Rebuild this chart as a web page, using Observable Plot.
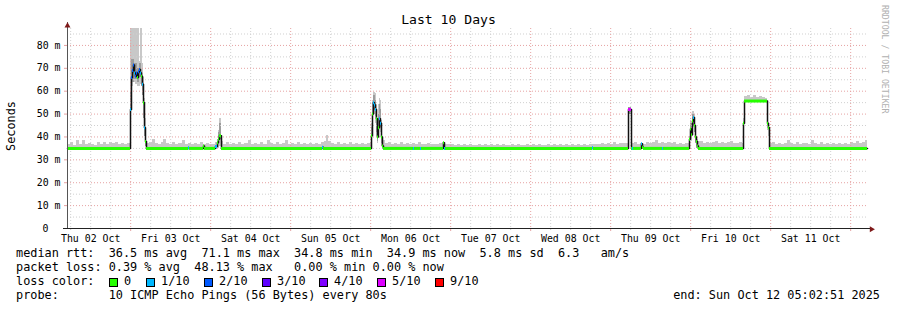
<!DOCTYPE html>
<html><head><meta charset="utf-8">
<script src="https://cdn.jsdelivr.net/npm/d3@7"></script>
<script src="https://cdn.jsdelivr.net/npm/@observablehq/plot@0.6"></script>
<style>
html,body{margin:0;padding:0;background:#fff;}
#wrap{position:relative;width:897px;height:310px;overflow:hidden;font-family:"DejaVu Sans Mono",monospace;color:#000;background:#fff;}
#wrap svg{position:absolute;left:0;top:0;}
.t{position:absolute;white-space:pre;line-height:1;}
.leg{font-size:11.85px;}
.box{position:absolute;width:7px;height:7px;border:1px solid #000;}
</style></head><body><div id="wrap"></div>
<script>
// ---- data (RRD step = 1080 s, step 0 = Thu 02 Oct 2025 05:02:51 UTC) ----
const startUTC = Date.UTC(2025, 9, 2, 5, 2, 51);
const stepSeconds = 1080;

const smokeStep = [
 0,3,6,9,12,15,18,21,24,27,30,33,36,39,42,45,48,51,54,57,60,
 62,63,64,66,68,70,72,73,75,76,77,78,79,
 82,85,88,91,94,96,99,102,105,108,111,115,118,121,124,127,130,133,136,139,142,145,148,
 150,151,152,154,
 156,159,162,165,168,171,174,177,181,184,187,190,193,196,200,203,206,209,212,215,218,221,
 224,227,230,233,236,239,242,245,248,251,254,257,259,261,264,267,270,273,276,279,282,285,288,291,294,297,300,
 303,304,305,306,308,309,310,311,312,313,314,315,316,
 318,321,324,327,330,333,336,339,342,345,348,351,354,357,360,363,366,369,372,375,378,381,384,
 387,390,393,396,399,402,405,408,411,414,417,420,423,426,429,432,435,438,441,444,447,450,453,456,459,462,
 465,468,471,474,477,480,483,486,489,492,495,498,501,504,507,510,513,516,519,522,525,528,531,534,537,540,
 543,546,549,552,555,558,
 561,562,564,
 567,570,573,576,579,582,585,588,591,594,597,600,603,606,609,612,615,618,621,
 622,623,624,625,626,627,628,629,630,631,
 633,636,639,642,645,648,651,654,657,660,663,666,669,672,
 675,676,677,680,683,686,689,692,695,698,700,701,702,
 705,708,711,714,717,720,723,726,729,732,735,738,741,744,747,750,753,756,759,762,765,768,771,774,777,780,783,786,789,792,795,798,
 800];

const smokeHi = [
 36.8,37.5,36.4,38.5,36.6,38.3,36.5,37.2,36.9,36.4,37.4,36.8,37.6,36.6,37.8,37.0,37.4,36.9,37.3,36.7,37.0,
 37,87.5,87.5,87.5,87.5,87.5,73,87.5,72,66,57,48,37,
 37.5,39.0,37.2,36.8,37.6,39.0,37.0,36.6,37.4,36.9,37.2,38.5,36.8,37.3,36.6,37.2,36.8,37.5,36.7,37.0,36.6,36.9,37.8,
 39,43,48,38,
 36.8,37.4,36.9,37.2,36.6,37.5,36.9,37.3,38.5,36.8,37.0,36.7,37.4,36.6,38.3,37.0,36.8,37.6,36.9,37.2,38.4,36.8,
 37.2,36.7,37.5,36.9,37.0,36.6,37.3,36.8,37.1,36.7,37.4,38.2,40.5,38.0,37.2,36.9,37.6,36.8,37.2,36.9,37.6,36.8,37.3,36.7,37.0,36.8,37.2,
 37,46,56,59.5,59,54,48,54,57,56,47,40,38.5,
 37.0,37.8,36.8,37.2,36.9,37.5,36.7,37.2,36.8,37.0,36.7,37.4,36.6,36.9,37.2,36.6,36.9,36.5,37.0,37.4,36.7,36.5,36.8,
 36.3,36.6,36.2,36.5,36.3,36.7,36.2,36.4,36.6,36.2,36.5,36.3,36.6,36.2,36.5,36.3,36.6,36.2,36.4,36.6,36.3,36.5,36.2,36.4,36.6,36.3,
 36.5,36.2,36.6,36.4,36.2,36.5,36.3,36.6,36.2,36.5,36.3,36.6,36.2,36.7,36.3,36.5,36.2,36.6,36.4,36.8,36.5,36.9,36.6,37.0,36.7,37.2,
 36.8,37.5,36.9,37.3,37.0,37.3,
 52.5,53,37,
 37.5,36.8,37.2,36.8,37.6,37.0,37.4,38.5,37.0,37.6,37.2,37.8,37.0,37.6,36.9,37.3,36.8,37.1,37.0,
 40,47,45,51,51,50,44,40,39,38,
 38.2,37.2,37.6,37.0,37.4,38.0,37.2,37.5,37.0,37.6,38.0,37.2,37.0,37.5,
 37,48,57.5,58,57.4,58.2,57.2,57.8,57.3,57.0,48,46,37,
 37.5,36.8,37.3,36.9,37.2,38.3,37.0,36.8,37.4,36.7,37.0,37.2,36.8,38.5,37.0,36.9,37.5,36.8,37.3,36.8,37.1,36.7,37.0,36.8,37.2,36.7,37.8,37.2,38.0,37.0,37.6,38.3,
 38.3];

const smokeLo = [
 34.6,34.6,34.6,34.6,34.6,34.6,34.6,34.6,34.6,34.6,34.6,34.6,34.6,34.6,34.6,34.6,34.6,34.6,34.6,34.6,34.6,
 34.6,48,62,64,63,62,62,63,58,50,40,36,34.6,
 34.6,34.6,34.6,34.6,34.6,34.6,34.6,34.6,34.6,34.6,34.6,34.6,34.6,34.6,34.6,34.6,34.6,34.6,34.6,34.6,34.6,34.6,34.6,
 34.6,35,36,34.6,
 34.6,34.6,34.6,34.6,34.6,34.6,34.6,34.6,34.6,34.6,34.6,34.6,34.6,34.6,34.6,34.6,34.6,34.6,34.6,34.6,34.6,34.6,
 34.6,34.6,34.6,34.6,34.6,34.6,34.6,34.6,34.6,34.6,34.6,34.6,34.6,34.6,34.6,34.6,34.6,34.6,34.6,34.6,34.6,34.6,34.6,34.6,34.6,34.6,34.6,
 34.6,36,44,50,46,40,37,42,44,42,36,34.6,34.6,
 34.6,34.6,34.6,34.6,34.6,34.6,34.6,34.6,34.6,34.6,34.6,34.6,34.6,34.6,34.6,34.6,34.6,34.6,34.6,34.6,34.6,34.6,34.6,
 34.6,34.6,34.6,34.6,34.6,34.6,34.6,34.6,34.6,34.6,34.6,34.6,34.6,34.6,34.6,34.6,34.6,34.6,34.6,34.6,34.6,34.6,34.6,34.6,34.6,34.6,
 34.6,34.6,34.6,34.6,34.6,34.6,34.6,34.6,34.6,34.6,34.6,34.6,34.6,34.6,34.6,34.6,34.6,34.6,34.6,34.6,34.6,34.6,34.6,34.6,34.6,34.6,
 34.6,34.6,34.6,34.6,34.6,34.6,
 35,50,34.6,
 34.6,34.6,34.6,34.6,34.6,34.6,34.6,34.6,34.6,34.6,34.6,34.6,34.6,34.6,34.6,34.6,34.6,34.6,34.6,
 34.6,40,38,40,44,42,37,35,34.6,34.6,
 34.6,34.6,34.6,34.6,34.6,34.6,34.6,34.6,34.6,34.6,34.6,34.6,34.6,34.6,
 34.6,44,55,55,55,55,55,55,55,55,43,40,34.6,
 34.6,34.6,34.6,34.6,34.6,34.6,34.6,34.6,34.6,34.6,34.6,34.6,34.6,34.6,34.6,34.6,34.6,34.6,34.6,34.6,34.6,34.6,34.6,34.6,34.6,34.6,34.6,34.6,34.6,34.6,34.6,34.6,
 34.6];

const coreStep = [63,64,67,70,72,74,75,76,77,78,79, 151,152,154, 304,305,306,308,309,310,311,312,313,314,315, 561,562,564, 623,625,626,627,628,629,630];
const coreLo = [50,64,65,64,66,62,58,48,40,36,NaN, 37,39,NaN, 38,46,52,49,42,38,42,46,44,37,NaN, 40,50,NaN, 41,44,45,42,37,35,NaN];
const coreHi = [60,74,72,70,72,68,66,60,52,42,NaN, 42,46,NaN, 44,55,58,56,52,44,50,54,52,44,NaN, 53,53,NaN, 46,50,50,48,42,39,NaN];

const medStep = [0,63,64,65,66,67,68,69,70,71,72,73,74,75,76,77,78,79,121,122,136,137,148,150,151,152,154,255,256,304,305,306,307,308,309,310,311,312,313,314,315,316,346,347,353,354,376,377,378,525,526,561,564,565,566,574,575,576,595,596,622,623,624,625,626,627,628,629,630,631,676,677,700,701,702,800];
const medValue = [35, 52,66,69,71.5,68,66.5,68,66,68.5,69.5,68,66.5,63,55,44,38,35, 35.3,35, 36,35, 35.8,37.5,39,40.5,35, 35.5,35, 40.5,50,55,54,52,48,40,44,48,46,40,36,35, 35,35,35,35, 37.5,35,35, 35.3,35, 52,35,35,35, 37,35.5,35, 35,35, 39,43.5,41,47,48.5,45,40,38,36,35, 46,55.7,46,44,35, 35];
const medLoss = [0, 1,2,2,2,1,2,2,0,2,2,1,0,1,0,1,0,0, 1,0, 0,0, 1,0,0,0,0, 1,0, 0,0,1,1,1,0,0,0,1,1,0,0,0, 1,0,1,0, 0,1,0, 1,0, 5,0,1,0, 1,0,0, 1,0, 0,0,0,0,1,0,0,0,0,0, 0,0,0,0,0, 0];

const lossLevels = [0, 1, 2, 3, 4, 5, 9];
const lossLabels = ["0", "1/10", "2/10", "3/10", "4/10", "5/10", "9/10"];
const lossColors = ["#26ff00", "#00b8ff", "#0059ff", "#5e00ff", "#7e00ff", "#dd00ff", "#ff0000"];

const dayLabels = ["Thu 02 Oct","Fri 03 Oct","Sat 04 Oct","Sun 05 Oct","Mon 06 Oct","Tue 07 Oct","Wed 08 Oct","Thu 09 Oct","Fri 10 Oct","Sat 11 Oct"];
const labelDays = ["2025-10-02","2025-10-03","2025-10-04","2025-10-05","2025-10-06","2025-10-07","2025-10-08","2025-10-09","2025-10-10","2025-10-11"];
const majorY = [10,20,30,40,50,60,70,80];
const minorY = [5,15,25,35,45,55,65,75,85];

const titleText = "Last 10 Days";
const statsLines = [
 "median rtt:  36.5 ms avg  71.1 ms max  34.8 ms min  34.9 ms now  5.8 ms sd  6.3   am/s",
 "packet loss: 0.39 % avg  48.13 % max   0.00 % min 0.00 % now",
 "loss color:",
 "probe:       10 ICMP Echo Pings (56 Bytes) every 80s"
];
const endText = "end: Sun Oct 12 05:02:51 2025";
const watermark = "RRDTOOL / TOBI OETIKER";

// ---- checks ----
if (smokeStep.length !== smokeHi.length || smokeStep.length !== smokeLo.length)
  throw new Error("smoke lengths " + smokeStep.length + " " + smokeHi.length + " " + smokeLo.length);
if (coreStep.length !== coreLo.length || coreStep.length !== coreHi.length) throw new Error("core lengths");
if (medStep.length !== medValue.length || medStep.length !== medLoss.length)
  throw new Error("median lengths " + medStep.length + " " + medValue.length + " " + medLoss.length);

// ---- build ----
const T = s => new Date(startUTC + s * stepSeconds * 1000);
const tEnd = T(800);
const smoke = smokeStep.slice(0, -1).map((s, i) => ({x1: T(s), x2: T(smokeStep[i + 1]), lo: smokeLo[i], hi: smokeHi[i]}));
const core = coreStep.slice(0, -1).map((s, i) => ({x1: T(s), x2: T(coreStep[i + 1]), lo: coreLo[i], hi: coreHi[i]})).filter(d => !isNaN(d.lo));
const med = medStep.map((s, i) => ({t: T(s), v: medValue[i], loss: medLoss[i]}));
const segs = med.slice(0, -1).map((d, i) => ({x1: d.t, x2: med[i + 1].t, v: d.v, c: lossColors[lossLevels.indexOf(d.loss)]}));

const midnights = d3.utcDay.range(T(0), tEnd).filter(d => d > T(0));
const sixHours = d3.utcHour.every(6).range(T(0), tEnd).filter(d => d.getUTCHours() !== 0);
const noonTicks = labelDays.map(s => new Date(s + "T12:00:00Z"));

const MONO = "DejaVu Sans Mono, monospace";
const gridMinor = "#d0d0d0", gridMajor = "#e6a2a2";

const plot = Plot.plot({
  width: 897, height: 310,
  marginLeft: 67, marginRight: 30, marginTop: 28, marginBottom: 82,
  x: {type: "utc", domain: [T(0), tEnd], label: null},
  y: {domain: [0, 87.4], label: null},
  color: {type: "identity"},
  style: {fontFamily: MONO, fontSize: "9.9px", background: "transparent", color: "#000"},
  marks: [
    Plot.rect(smoke, {x1: "x1", x2: "x2", y1: "lo", y2: "hi", fill: "#c8c8c8", shapeRendering: "crispEdges"}),
    Plot.rect(core, {x1: "x1", x2: "x2", y1: "lo", y2: "hi", fill: "#9c9c9c", shapeRendering: "crispEdges"}),
    Plot.ruleY(minorY, {stroke: gridMinor, strokeDasharray: "1,2"}),
    Plot.ruleX(sixHours, {stroke: gridMinor, strokeDasharray: "1,2"}),
    Plot.ruleY(majorY, {stroke: gridMajor, strokeDasharray: "1,2"}),
    Plot.ruleX(midnights, {stroke: gridMajor, strokeDasharray: "1,2"}),
    Plot.line(med, {x: "t", y: "v", curve: "step-after", stroke: "#111", strokeWidth: 1.5}),
    Plot.ruleY(segs, {x1: "x1", x2: "x2", y: "v", stroke: "c", strokeWidth: 3}),
    Plot.axisY(majorY, {tickSize: 3, tickPadding: 4, stroke: gridMajor, tickFormat: d => d + " m", fontSize: "9.9px"}),
    Plot.axisY([0], {tickSize: 0, tickPadding: 19, tickFormat: () => "0", fontSize: "9.9px"}),
    Plot.axisX(noonTicks, {tickSize: 0, tickPadding: 6, tickFormat: d => dayLabels[noonTicks.findIndex(x => +x === +d)], fontSize: "9.9px"}),
    Plot.axisX(sixHours, {tickSize: 2, stroke: "#c8c8c8", tickFormat: () => ""}),
    Plot.axisX(midnights, {tickSize: 3, stroke: gridMajor, tickFormat: () => ""}),
    Plot.ruleX([0], {x: () => T(0), y1: 0, y2: 90, stroke: "#555"}),
    Plot.ruleY([0], {y: 0, x1: () => T(-4), x2: () => T(805), stroke: "#222"}),
    Plot.dot([0], {x: () => T(0), y: 88.6, symbol: "triangle", r: 2.2, fill: "#7f1a1a", stroke: null}),
    Plot.dot([0], {x: () => T(804), y: -0.3, symbol: "triangle", rotate: 90, r: 2.2, fill: "#7f1a1a", stroke: null})
  ]
});

const wrap = document.getElementById("wrap");
wrap.appendChild(plot);
const svg = d3.select(plot);
svg.append("text").attr("transform", "translate(15,126) rotate(-90)")
  .attr("text-anchor", "middle").attr("font-family", MONO).attr("font-size", "11.85px").attr("fill", "#000").text("Seconds");
svg.append("text").attr("transform", "translate(882,5) rotate(90)")
  .attr("text-anchor", "start").attr("font-family", MONO).attr("font-size", "8.2px").attr("fill", "#b0b0b0").text(watermark);

function addText(txt, cls, style) {
  const d = document.createElement("div");
  d.className = "t " + cls;
  d.textContent = txt;
  Object.assign(d.style, style);
  wrap.appendChild(d);
  return d;
}
addText(titleText, "", {left: "0px", width: "897px", textAlign: "center", top: "13px", fontSize: "13.1px"});
const legTops = [248, 262, 276, 290];
statsLines.forEach((s, i) => addText(s, "leg", {left: "16px", top: legTops[i] + "px"}));
addText(endText, "leg", {right: "17px", top: legTops[3] + "px"});
const boxX = [109, 146, 204, 262, 319, 377, 435];
lossLabels.forEach((lab, i) => {
  const b = document.createElement("div");
  b.className = "box";
  b.style.left = boxX[i] + "px";
  b.style.top = "278px";
  b.style.background = lossColors[i];
  wrap.appendChild(b);
  addText(lab, "leg", {left: (boxX[i] + 15) + "px", top: legTops[2] + "px"});
});
</script></body></html>
